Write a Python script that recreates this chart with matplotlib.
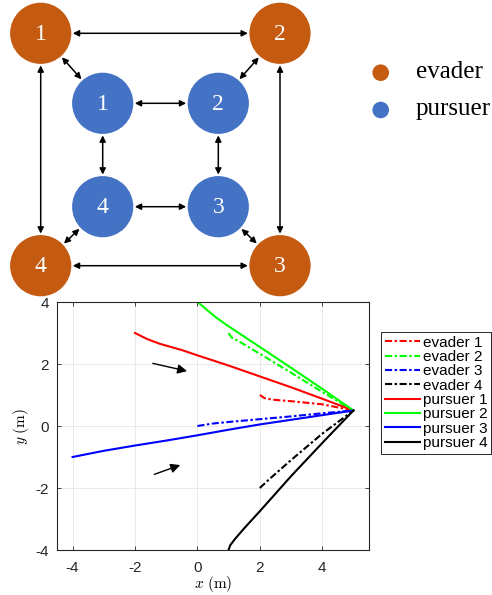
import numpy as np
import matplotlib
matplotlib.use('Agg')
import matplotlib.pyplot as plt
from matplotlib.patches import Circle

plt.rcParams['mathtext.fontset'] = 'cm'

# ---- communication graph (pixel layout) ----
evader_xy = [(40.7, 33.3), (280, 33.3), (280, 265.7), (40.7, 265.7)]
pursuer_xy = [(102.7, 103.3), (218.3, 103.3), (218.3, 206.7), (102.7, 206.7)]
node_r = 30.6
evader_col = '#C55A11'
pursuer_col = '#4472C4'
# links: ('e'|'p', index) pairs
links = [(('e', 0), ('e', 1)), (('e', 1), ('e', 2)), (('e', 2), ('e', 3)), (('e', 3), ('e', 0)),
         (('p', 0), ('p', 1)), (('p', 1), ('p', 2)), (('p', 2), ('p', 3)), (('p', 3), ('p', 0)),
         (('e', 0), ('p', 0)), (('e', 1), ('p', 1)), (('e', 2), ('p', 2)), (('e', 3), ('p', 3))]

# ---- trajectories ----
evader1_x = [2, 2.15, 2.4, 3, 4, 5]
evader1_y = [1, 0.9, 0.85, 0.8, 0.7, 0.5]
evader2_x = [1, 1.1, 1.3, 2, 3, 4, 5]
evader2_y = [3, 2.85, 2.75, 2.33, 1.72, 1.1, 0.5]
evader3_x = [0, 0.5, 1, 2, 3, 4, 5]
evader3_y = [0, 0.08, 0.13, 0.22, 0.31, 0.41, 0.5]
evader4_x = [2, 2.3, 3, 4, 5]
evader4_y = [-2, -1.72, -1.1, -0.25, 0.5]
pursuer1_x = [-2, -1.6, -1.2, -0.5, 0, 1, 2, 3, 4, 5]
pursuer1_y = [3, 2.8, 2.65, 2.45, 2.28, 1.95, 1.6, 1.25, 0.88, 0.5]
pursuer2_x = [0, 0.15, 0.3, 0.6, 0.95, 2, 3, 4, 5]
pursuer2_y = [4, 3.88, 3.75, 3.5, 3.25, 2.55, 1.88, 1.2, 0.5]
pursuer3_x = [-4, -3, -2, -1, 0, 1, 2, 3, 4, 5]
pursuer3_y = [-1, -0.8, -0.63, -0.47, -0.3, -0.12, 0.05, 0.2, 0.35, 0.5]
pursuer4_x = [1, 1.05, 1.2, 1.5, 2, 3, 4, 5]
pursuer4_y = [-4, -3.85, -3.65, -3.3, -2.75, -1.62, -0.55, 0.5]

arrow1 = [(-1.43, 2.02), (-0.33, 1.77)]
arrow2 = [(-1.38, -1.56), (-0.55, -1.26)]

fig = plt.figure(figsize=(4.92, 5.95), dpi=100)

# top graph drawn in pixel coordinates
g = fig.add_axes([0, 0, 1, 1])
g.set_xlim(0, 492)
g.set_ylim(595, 0)
g.axis('off')

def pos(n):
    return evader_xy[n[1]] if n[0] == 'e' else pursuer_xy[n[1]]

for a, b in links:
    p0 = np.array(pos(a))
    p1 = np.array(pos(b))
    d = (p1 - p0) / np.linalg.norm(p1 - p0)
    s = p0 + d * (node_r + 1.5)
    e = p1 - d * (node_r + 1.5)
    g.annotate('', xy=e, xytext=s,
               arrowprops=dict(arrowstyle='<|-|>', color='black', lw=1.1,
                               mutation_scale=9, shrinkA=0, shrinkB=0))

for i, (x, y) in enumerate(evader_xy):
    g.add_patch(Circle((x, y), node_r, color=evader_col, lw=0))
    g.text(x, y + 1, str(i + 1), color='white', ha='center', va='center',
           fontsize=17, family='Liberation Serif')
for i, (x, y) in enumerate(pursuer_xy):
    g.add_patch(Circle((x, y), node_r, color=pursuer_col, lw=0))
    g.text(x, y + 1, str(i + 1), color='white', ha='center', va='center',
           fontsize=17, family='Liberation Serif')

g.add_patch(Circle((380.7, 72.7), 8.3, color=evader_col, lw=0))
g.add_patch(Circle((380.7, 110), 8.3, color=pursuer_col, lw=0))
g.text(416, 72, 'evader', ha='left', va='center', fontsize=18, family='Liberation Serif')
g.text(416, 109, 'pursuer', ha='left', va='center', fontsize=18, family='Liberation Serif')

# bottom trajectory plot
ax = fig.add_axes([57 / 492, 45 / 595, 312 / 492, 248 / 595])
dd = (0, (3.4, 1.2, 1.2, 1.2))
lw = 1.5
ax.plot(evader1_x, evader1_y, color='r', ls=dd, lw=lw, label='evader 1')
ax.plot(evader2_x, evader2_y, color=(0, 1, 0), ls=dd, lw=lw, label='evader 2')
ax.plot(evader3_x, evader3_y, color='b', ls=dd, lw=lw, label='evader 3')
ax.plot(evader4_x, evader4_y, color='k', ls=dd, lw=lw, label='evader 4')
ax.plot(pursuer1_x, pursuer1_y, color='r', lw=lw, label='pursuer 1')
ax.plot(pursuer2_x, pursuer2_y, color=(0, 1, 0), lw=lw, label='pursuer 2')
ax.plot(pursuer3_x, pursuer3_y, color='b', lw=lw, label='pursuer 3')
ax.plot(pursuer4_x, pursuer4_y, color='k', lw=lw, label='pursuer 4')

for a in (arrow1, arrow2):
    ax.annotate('', xy=a[1], xytext=a[0],
                arrowprops=dict(arrowstyle='-|>', color='black', lw=1.0,
                                mutation_scale=14, shrinkA=0, shrinkB=0))

ax.set_xlim(-4.5, 5.5)
ax.set_ylim(-4, 4)
ax.set_xticks([-4, -2, 0, 2, 4])
ax.set_yticks([-4, -2, 0, 2, 4])
ax.set_xticklabels(['-4', '-2', '0', '2', '4'], family='Liberation Sans', fontsize=11)
ax.set_yticklabels(['-4', '-2', '0', '2', '4'], family='Liberation Sans', fontsize=11)
ax.grid(True, color='#e6e6e6', lw=0.6)
ax.set_axisbelow(True)
ax.tick_params(direction='in', length=3, width=0.6, top=True, right=True,
               labeltop=False, labelright=False, colors='#262626')
ax.tick_params(axis='x', pad=8)
ax.tick_params(axis='y', pad=6)
for s in ax.spines.values():
    s.set_color('#262626')
    s.set_linewidth(0.8)
ax.set_xlabel(r'$x\ (\mathrm{m})$', fontsize=11, labelpad=-1)
ax.set_ylabel(r'$y\ (\mathrm{m})$', fontsize=11, labelpad=3)

leg = ax.legend(loc='upper left', bbox_to_anchor=(381 / 492, 1 - 332 / 595),
                bbox_transform=fig.transFigure, borderaxespad=0,
                prop={'family': 'Liberation Sans', 'size': 11},
                fancybox=False, edgecolor='#262626', framealpha=1,
                handlelength=2.3, handletextpad=0.2, labelspacing=0.02,
                borderpad=0.25)
leg.get_frame().set_linewidth(0.7)

fig.savefig('out.png', dpi=100)
